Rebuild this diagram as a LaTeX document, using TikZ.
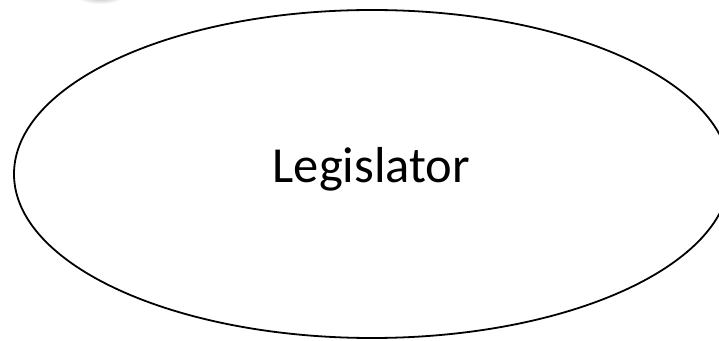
\documentclass[tikz,border=0pt]{standalone}
\usepackage{fontspec}
\setmainfont{Carlito}
\usetikzlibrary{shapes.geometric}
\begin{document}
\begin{tikzpicture}[x=1pt,y=1pt,
  oval/.style={draw=black, line width=1.8pt},
  label/.style={font=\fontsize{50.5}{58}\selectfont, inner sep=0pt}]
\useasboundingbox (0,0) rectangle (719,340);
\begin{scope}
\clip (0,0) rectangle (719,340);
\shade[inner color=black!30, outer color=white] (100,344) ellipse (24 and 8);
\node[oval, ellipse, minimum width=716pt, minimum height=328pt, inner sep=0pt] (e) at (372,166) {};
\end{scope}
\node[label, anchor=base] (t) at (371.5,157) {Legislator};
\end{tikzpicture}
\end{document}
